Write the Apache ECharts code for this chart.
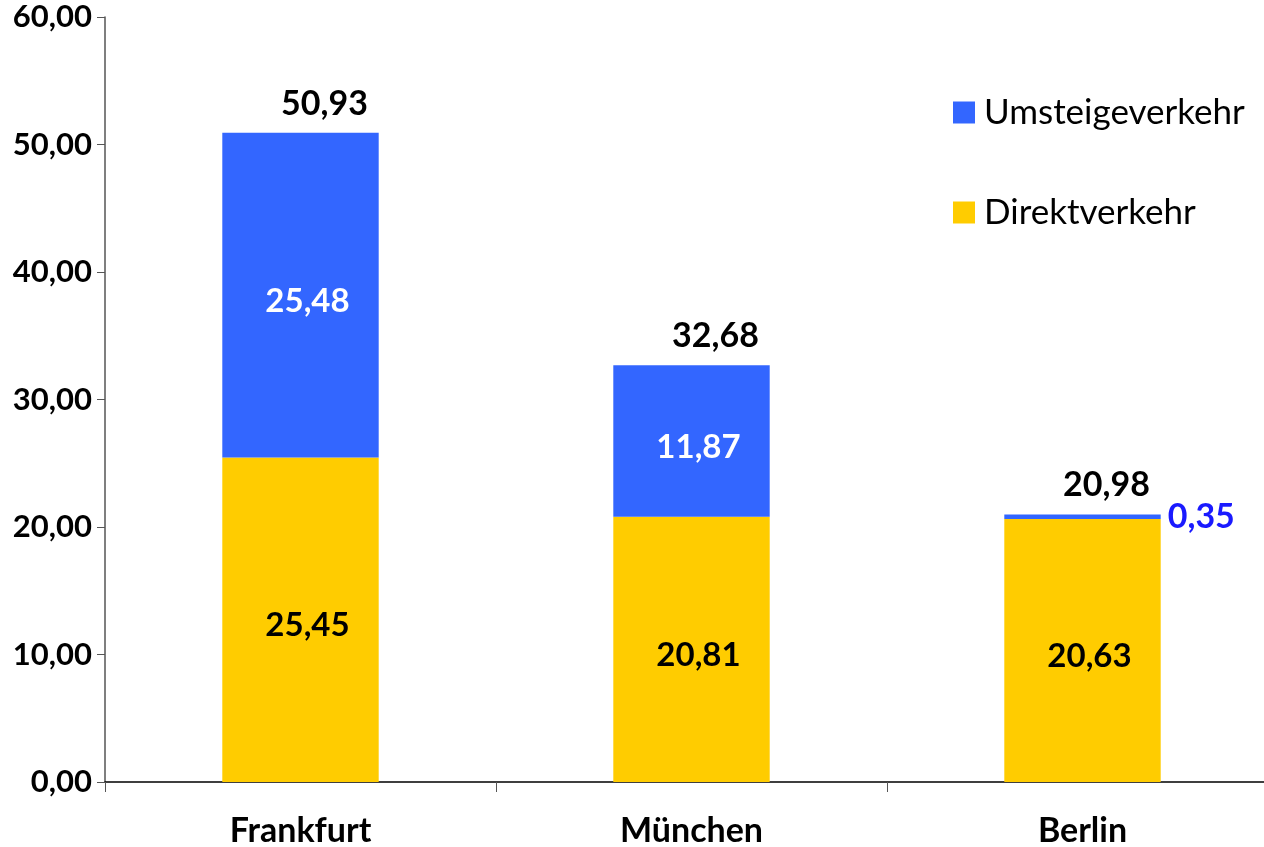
<!DOCTYPE html>
<html>
<head>
<meta charset="utf-8">
<script src="https://cdn.jsdelivr.net/npm/echarts@6/dist/echarts.min.js"></script>
<style>
  html, body { margin: 0; padding: 0; background: #fff; }
  #chart { width: 1264px; height: 847px; }
</style>
</head>
<body>
<div id="chart"></div>
<script>
var categories = ['Frankfurt', 'München', 'Berlin'];
var direktData = [25.45, 20.81, 20.63];
var umsteigData = [25.48, 11.87, 0.35];
var totals = [50.93, 32.68, 20.98];

var fontName = 'Lato';

function deNum(v) {
    return Number(v).toFixed(2).replace('.', ',');
}

// Berlin gets its small blue label outside the bar
var umsteigItems = umsteigData.map(function (v, i) {
    if (v < 2) {
        return {
            value: v,
            label: {
                position: 'right',
                color: '#1a1aff',
                fontSize: 34,
                offset: [2, 0]
            }
        };
    }
    return v;
});

var chart = echarts.init(document.getElementById('chart'));

var option = {
    animation: false,
    textStyle: { fontFamily: fontName },
    grid: { left: 105, width: 1173, top: 17, bottom: 65, containLabel: false, outerBoundsMode: 'none' },
    legend: {
        orient: 'vertical',
        left: 953,
        top: 95,
        padding: 0,
        itemWidth: 22,
        itemHeight: 22,
        itemGap: 65,
        icon: 'rect',
        data: ['Umsteigeverkehr', 'Direktverkehr'],
        textStyle: { fontFamily: fontName, fontSize: 35, color: '#000', padding: [0, 0, 0, 4] }
    },
    xAxis: {
        type: 'category',
        data: categories,
        axisLine: { lineStyle: { color: '#000', width: 1.5 } },
        axisTick: { show: true, length: 10, lineStyle: { color: '#555' } },
        axisLabel: { fontFamily: fontName, fontWeight: 'bold', fontSize: 34, color: '#000', margin: 32 }
    },
    yAxis: {
        type: 'value',
        min: 0,
        max: 60,
        interval: 10,
        splitLine: { show: false },
        axisLine: { show: true, lineStyle: { color: '#555', width: 1.5 } },
        axisTick: { show: true, length: 8, lineStyle: { color: '#555' } },
        axisLabel: {
            fontFamily: fontName, fontWeight: 'bold', fontSize: 31, color: '#000', margin: 13,
            formatter: function (v) { return deNum(v); }
        }
    },
    series: [
        {
            name: 'Direktverkehr',
            type: 'bar',
            stack: 'total',
            barWidth: '40%',
            itemStyle: { color: '#FFCC00' },
            label: {
                show: true,
                position: 'inside',
                offset: [7, 6],
                fontFamily: fontName, fontWeight: 'bold', fontSize: 33, color: '#000',
                formatter: function (p) { return deNum(p.value); }
            },
            data: direktData
        },
        {
            name: 'Umsteigeverkehr',
            type: 'bar',
            stack: 'total',
            itemStyle: { color: '#3366FF' },
            label: {
                show: true,
                position: 'inside',
                offset: [7, 6],
                fontFamily: fontName, fontWeight: 'bold', fontSize: 33, color: '#fff',
                formatter: function (p) { return deNum(p.value); }
            },
            data: umsteigItems
        },
        {
            name: 'Gesamt',
            type: 'scatter',
            symbolSize: 0,
            silent: true,
            itemStyle: { opacity: 1 },
            label: {
                show: true,
                position: 'top',
                distance: 0,
                offset: [24, -12],
                fontFamily: fontName, fontWeight: 'bold', fontSize: 34, color: '#000',
                formatter: function (p) { return deNum(p.value); }
            },
            data: totals
        }
    ]
};

chart.setOption(option);
window.onresize = chart.resize;
</script>
</body>
</html>
